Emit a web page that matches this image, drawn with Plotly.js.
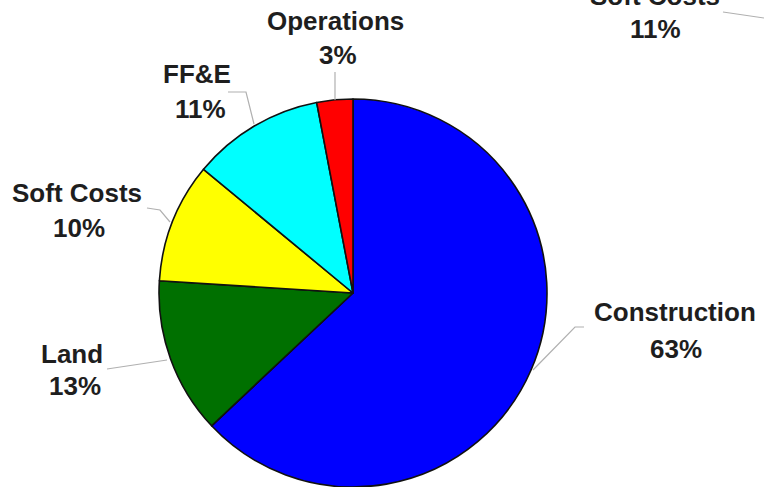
<!DOCTYPE html>
<html><head><meta charset="utf-8">
<script src="https://cdn.plot.ly/plotly-3.0.1.min.js"></script>
<style>html,body{margin:0;padding:0;background:#fff;overflow:hidden}#chart{width:764px;height:487px}</style>
</head><body><div id="chart"></div>
<script>
const labels = ["Construction", "Land", "Soft Costs", "FF&E", "Operations"];
const values = [63, 13, 10, 11, 3];
const colors = ["#0000FF", "#007000", "#FFFF00", "#00FFFF", "#FF0000"];
// partially visible label from neighbouring chart (top right corner)
const extraLabel = "Soft Costs";
const extraValue = 11;

const W = 764, H = 487;
const px = x => x / W, py = y => 1 - y / H;

// label positions in pixels: [x name, y name, x pct, y pct]
const labelPos = [
  [675, 312, 676, 349],
  [72, 354, 75, 386],
  [77, 193, 79, 228],
  [197, 74, 200, 109],
  [335, 21, 338, 55]
];
const extraPos = [655, -4, 655, 29];
const leaders = [
  [[584, 327], [575, 327], [533, 370]],
  [[107, 369], [167, 360]],
  [[147, 208], [160, 210], [170, 222]],
  [[228, 92], [246, 92], [254, 124]],
  [[335, 72], [335, 100]],
  [[723, 12], [764, 18]]
];

const fnt = {family: 'Liberation Sans, Arial, sans-serif', size: 26, color: '#1e1e1e'};
const mk = (t, x, y) => ({xref: 'paper', yref: 'paper', x: px(x), y: py(y),
  xanchor: 'center', yanchor: 'middle', showarrow: false, text: '<b>' + t + '</b>', font: fnt});
const annotations = [];
labels.forEach((l, i) => {
  const p = labelPos[i];
  annotations.push(mk(l.replace('&', '&amp;'), p[0], p[1]));
  annotations.push(mk(values[i] + '%', p[2], p[3]));
});
annotations.push(mk(extraLabel, extraPos[0], extraPos[1]));
annotations.push(mk(extraValue + '%', extraPos[2], extraPos[3]));

const shapes = leaders.map(pts => ({
  type: 'path', xref: 'paper', yref: 'paper',
  path: pts.map((p, j) => (j ? 'L' : 'M') + px(p[0]) + ',' + py(p[1])).join(' '),
  line: {color: '#b0b0b0', width: 1.2}
}));

const trace = {
  type: 'pie', labels: labels, values: values, sort: false,
  direction: 'clockwise', rotation: 0,
  marker: {colors: colors, line: {color: '#111', width: 1.6}},
  textinfo: 'none', hoverinfo: 'label+percent',
  domain: {x: [159 / W, 547 / W], y: [0, 388 / H]}
};

Plotly.newPlot('chart', [trace], {
  width: W, height: H, margin: {l: 0, r: 0, t: 0, b: 0},
  paper_bgcolor: '#fff', showlegend: false,
  annotations: annotations, shapes: shapes
}, {staticPlot: true});
</script></body></html>
